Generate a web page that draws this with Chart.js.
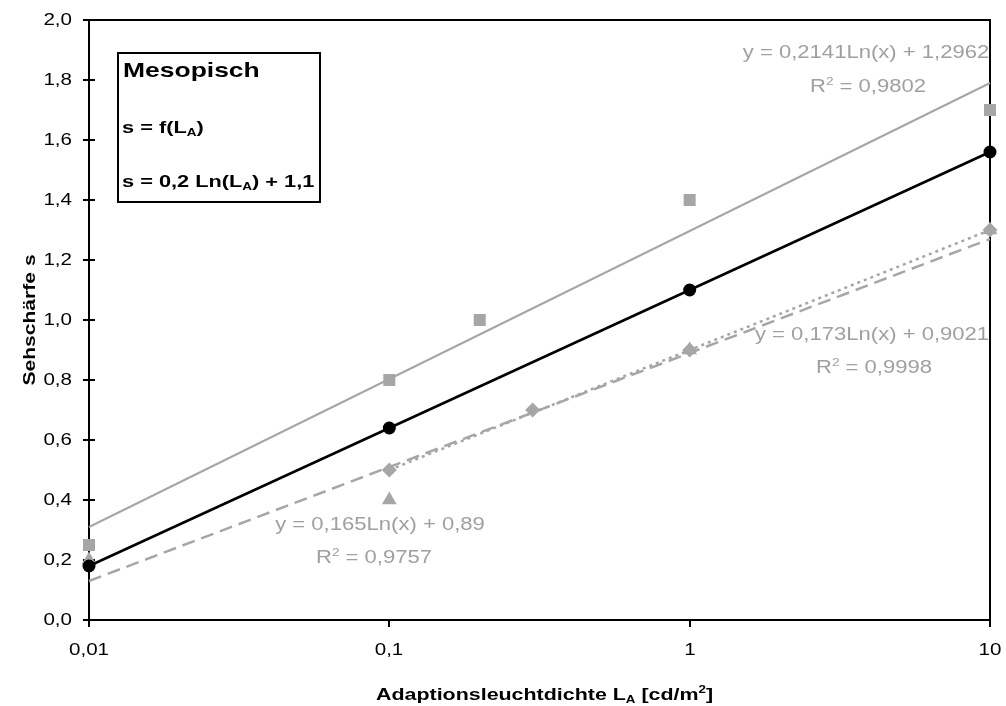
<!DOCTYPE html>
<html>
<head>
<meta charset="utf-8">
<script src="https://cdn.jsdelivr.net/npm/chart.js@4/dist/chart.umd.min.js"></script>
<style>
  html, body { margin: 0; padding: 0; background: #fff; }
  canvas { display: block; }
</style>
</head>
<body>
<canvas id="c" width="1006" height="706"></canvas>
<script>
// ---- data ----
const circleX = [0.01, 0.1, 1, 10];
const circleY = [0.18, 0.64, 1.1, 1.56];
const squareX = [0.01, 0.1, 0.2, 1, 10];
const squareY = [0.25, 0.8, 1.0, 1.4, 1.7];
const diamondX = [0.1, 0.3, 1, 10];
const diamondY = [0.5, 0.7, 0.9, 1.3];
const triangleX = [0.01, 0.1, 1, 10];
const triangleY = [0.2, 0.4, 0.9, 1.3];
// trendline end points
const trendSquareX = [0.01, 10];
const trendSquareY = [0.31, 1.79];
const trendDiamondX = [0.1, 10];
const trendDiamondY = [0.50, 1.30];
const trendTriangleX = [0.01, 10];
const trendTriangleY = [0.13, 1.27];
// ticks
const xTickValues = [0.01, 0.1, 1, 10];
const xTickLabels = ['0,01', '0,1', '1', '10'];
const yTickValues = [0, 0.2, 0.4, 0.6, 0.8, 1.0, 1.2, 1.4, 1.6, 1.8, 2.0];
const yTickLabels = ['0,0', '0,2', '0,4', '0,6', '0,8', '1,0', '1,2', '1,4', '1,6', '1,8', '2,0'];

const pts = (xs, ys) => xs.map((x, i) => ({ x, y: ys[i] }));

const GRAY = '#a6a6a6';
const TEXTGRAY = '#a0a0a0';
const FAM = "'Liberation Sans', Arial, sans-serif";

function richText(ctx, parts, x, y, o) {
  const w = o.bold ? 'bold ' : '';
  const sx = o.sx || 1.24;
  let total = 0;
  const segs = parts.map(p => {
    const kind = typeof p === 'string' ? 'n' : p.k;
    const text = typeof p === 'string' ? p : p.t;
    const size = kind === 'n' ? o.size : o.size * 0.62;
    ctx.font = w + size + 'px ' + FAM;
    const width = ctx.measureText(text).width;
    total += width;
    return { text, kind, size, width };
  });
  ctx.save();
  ctx.translate(x, y);
  ctx.scale(sx, 1);
  let cx = o.align === 'center' ? -total / 2 : (o.align === 'right' ? -total : 0);
  ctx.fillStyle = o.color || '#000';
  ctx.textBaseline = 'middle';
  ctx.textAlign = 'left';
  for (const s of segs) {
    ctx.font = w + s.size + 'px ' + FAM;
    const dy = s.kind === 'sub' ? o.size * 0.28 : (s.kind === 'sup' ? -o.size * 0.3 : 0);
    ctx.fillText(s.text, cx, dy);
    cx += s.width;
  }
  ctx.restore();
}

const decor = {
  id: 'decor',
  beforeDatasetsDraw(chart) {
    const { ctx, chartArea: a, scales: { x, y } } = chart;
    ctx.save();
    ctx.strokeStyle = '#000';
    ctx.lineWidth = 2;
    ctx.strokeRect(a.left, a.top, a.right - a.left, a.bottom - a.top);
    yTickValues.forEach((v, i) => {
      const py = Math.round(y.getPixelForValue(v));
      ctx.beginPath(); ctx.moveTo(a.left - 6, py); ctx.lineTo(a.left + 6, py); ctx.stroke();
      richText(ctx, [yTickLabels[i]], a.left - 17, py, { size: 17, align: 'right', sx: 1.21 });
    });
    xTickValues.forEach((v, i) => {
      const px = Math.round(x.getPixelForValue(v));
      ctx.beginPath(); ctx.moveTo(px, a.bottom); ctx.lineTo(px, a.bottom + 7); ctx.stroke();
      richText(ctx, [xTickLabels[i]], px, a.bottom + 30, { size: 17, align: 'center', sx: 1.21 });
    });
    // axis titles
    richText(ctx, ['Adaptionsleuchtdichte L', { k: 'sub', t: 'A' }, ' [cd/m', { k: 'sup', t: '2' }, ']'],
      (a.left + a.right) / 2 + 5, 695, { size: 17, bold: true, align: 'center', sx: 1.26 });
    ctx.save();
    ctx.translate(30, (a.top + a.bottom) / 2);
    ctx.rotate(-Math.PI / 2);
    richText(ctx, ['Sehschärfe s'], 0, 0, { size: 17, bold: true, align: 'center', sx: 1.24 });
    ctx.restore();
    ctx.restore();
  },
  afterDatasetsDraw(chart) {
    const { ctx } = chart;
    ctx.save();
    // annotation box
    ctx.fillStyle = '#fff';
    ctx.fillRect(118, 53, 202, 149);
    ctx.strokeStyle = '#000';
    ctx.lineWidth = 2;
    ctx.strokeRect(118, 53, 202, 149);
    richText(ctx, ['Mesopisch'], 123, 71, { size: 21, bold: true, align: 'left', sx: 1.26 });
    richText(ctx, ['s = f(L', { k: 'sub', t: 'A' }, ')'], 122, 128, { size: 17, bold: true, align: 'left', sx: 1.28 });
    richText(ctx, ['s = 0,2 Ln(L', { k: 'sub', t: 'A' }, ') + 1,1'], 122, 182, { size: 17, bold: true, align: 'left', sx: 1.28 });
    // trendline equations
    const g = { size: 17.5, color: TEXTGRAY, align: 'center', sx: 1.26 };
    richText(ctx, ['y = 0,2141Ln(x) + 1,2962'], 866, 53, g);
    richText(ctx, ['R', { k: 'sup', t: '2' }, ' = 0,9802'], 868, 87, g);
    richText(ctx, ['y = 0,173Ln(x) + 0,9021'], 872, 335, g);
    richText(ctx, ['R', { k: 'sup', t: '2' }, ' = 0,9998'], 874, 368, g);
    richText(ctx, ['y = 0,165Ln(x) + 0,89'], 380, 525, g);
    richText(ctx, ['R', { k: 'sup', t: '2' }, ' = 0,9757'], 374, 558, g);
    ctx.restore();
  }
};

new Chart(document.getElementById('c'), {
  type: 'scatter',
  data: {
    datasets: [
      { label: 'Mesopisch', data: pts(circleX, circleY), showLine: true,
        borderColor: '#000', backgroundColor: '#000', borderWidth: 2.5,
        pointStyle: 'circle', pointRadius: 6.5, pointBorderWidth: 0, clip: false },
      { label: 'Quadrate', data: pts(squareX, squareY), showLine: false,
        backgroundColor: GRAY, borderColor: GRAY, pointStyle: 'rect', pointRadius: 8.5,
        pointBorderWidth: 0, clip: false },
      { label: 'Dreiecke', data: pts(triangleX, triangleY), showLine: false,
        backgroundColor: GRAY, borderColor: GRAY, pointStyle: 'triangle', pointRadius: 8.5,
        pointBorderWidth: 0, clip: false },
      { label: 'Rauten', data: pts(diamondX, diamondY), showLine: false,
        backgroundColor: GRAY, borderColor: GRAY, pointStyle: 'rectRot', pointRadius: 7.5,
        pointBorderWidth: 0, clip: false },
      { label: 'Trend Quadrate', data: pts(trendSquareX, trendSquareY), showLine: true,
        borderColor: GRAY, borderWidth: 2, pointRadius: 0, clip: false },
      { label: 'Trend Rauten', data: pts(trendDiamondX, trendDiamondY), showLine: true,
        borderColor: GRAY, borderWidth: 2.5, borderDash: [3, 4], pointRadius: 0, clip: false },
      { label: 'Trend Dreiecke', data: pts(trendTriangleX, trendTriangleY), showLine: true,
        borderColor: GRAY, borderWidth: 2.5, borderDash: [13, 7], pointRadius: 0, clip: false }
    ]
  },
  options: {
    responsive: false,
    devicePixelRatio: 1,
    animation: false,
    layout: { padding: { left: 89, right: 16, top: 20, bottom: 86 } },
    plugins: { legend: { display: false }, tooltip: { enabled: false } },
    scales: {
      x: { type: 'logarithmic', min: 0.01, max: 10, display: false },
      y: { type: 'linear', min: 0, max: 2, display: false }
    }
  },
  plugins: [decor]
});
</script>
</body>
</html>
